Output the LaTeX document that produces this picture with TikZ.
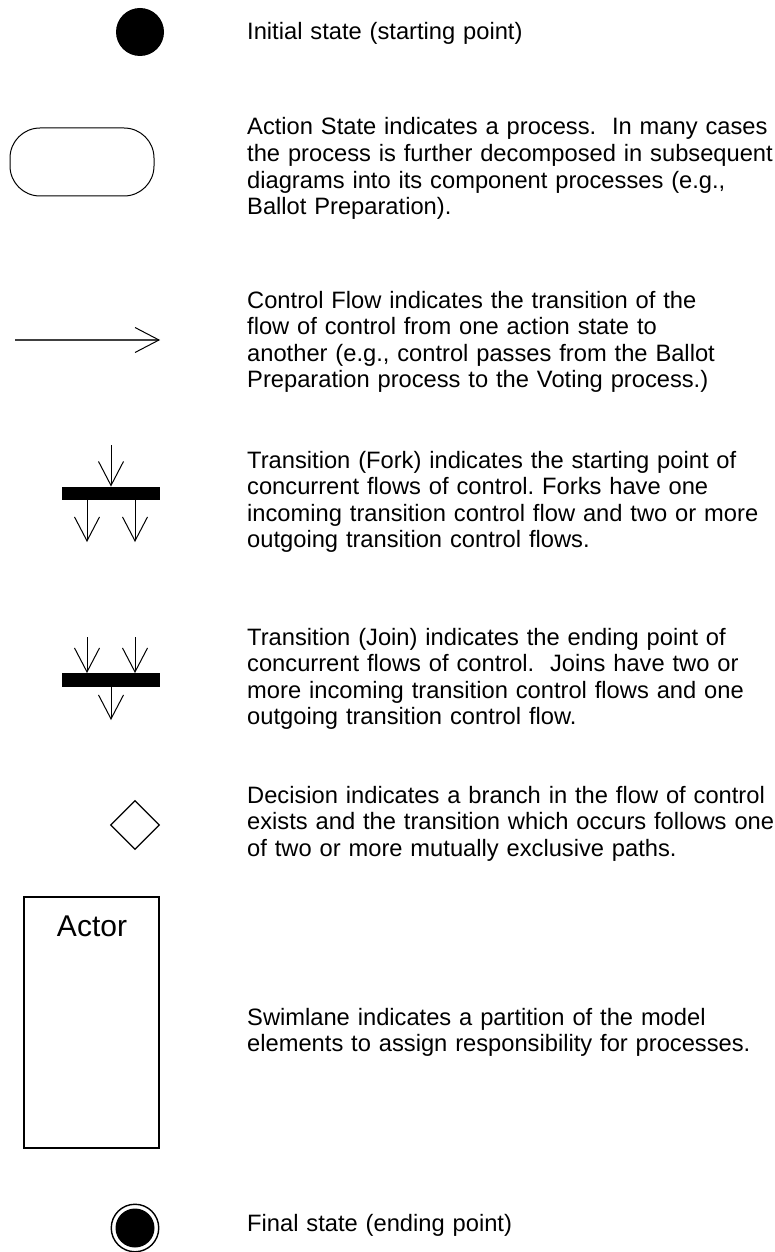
\documentclass[tikz,border=0pt]{standalone}
\usepackage{fontspec}
\setmainfont{Liberation Sans}
\usetikzlibrary{arrows.meta,shapes.geometric}
\frenchspacing
\tikzset{
  desc/.style={anchor=base west, inner sep=0pt, text width=560pt, align=left,
               font=\fontsize{23.7}{26.6}\selectfont},
  flow/.style={line width=1pt, -{Straight Barb[length=24pt,width=25pt,line width=1pt]}},
  barnode/.style={fill=black, draw=none, minimum width=98pt, minimum height=13.5pt, inner sep=0pt},
  startnode/.style={circle, fill=black, minimum size=48pt, inner sep=0pt},
  actionnode/.style={draw, line width=1pt, rounded corners=30pt, minimum width=144pt, minimum height=68pt, inner sep=0pt},
  decisionnode/.style={diamond, draw, line width=1.3pt, minimum width=49pt, minimum height=49pt, inner sep=0pt},
  lanenode/.style={draw, line width=1.2pt, minimum width=135pt, minimum height=251pt, inner sep=0pt},
}
\begin{document}
\begin{tikzpicture}[x=1pt,y=-1pt]
\useasboundingbox (0,0) rectangle (774,1252);

% Initial state
\node[startnode] (init) at (140,32) {};
\node[desc] (tinit) at (247,40) {Initial state (starting point)};

% Action state
\node[actionnode] (action) at (82,162) {};
\node[desc] (taction) at (247,135) {Action State indicates a process.\ \ In many cases\\the process is further decomposed in subsequent\\diagrams into its component processes (e.g.,\\Ballot Preparation).};

% Control flow
\coordinate (cfa) at (15,340);
\coordinate (cfb) at (159,340);
\draw[line width=1.2pt, draw=black!75] (cfa) -- (cfb);
\draw[line width=1pt] (135,327.5) -- (cfb) -- (135,352.5);
\node[desc] (tcontrol) at (247,308) {Control Flow indicates the transition of the\\flow of control from one action state to\\another (e.g., control passes from the Ballot\\Preparation process to the Voting process.)};

% Fork
\node[barnode] (fork) at (111,493.5) {};
\coordinate (forkin) at (111,445);
\coordinate (forkout1) at (87,542);
\coordinate (forkout2) at (135,542);
\draw[flow] (forkin) -- (fork.north);
\draw[flow] (fork.south -| forkout1) -- (forkout1);
\draw[flow] (fork.south -| forkout2) -- (forkout2);
\node[desc] (tfork) at (247,468) {Transition (Fork) indicates the starting point of\\concurrent flows of control. Forks have one\\incoming transition control flow and two or more\\outgoing transition control flows.};

% Join
\node[barnode] (join) at (111,680) {};
\coordinate (joinin1) at (87,637);
\coordinate (joinin2) at (135,637);
\coordinate (joinout) at (111,720);
\draw[flow] (joinin1) -- (joinin1 |- join.north);
\draw[flow] (joinin2) -- (joinin2 |- join.north);
\draw[flow] (join.south) -- (joinout);
\node[desc] (tjoin) at (247,645) {Transition (Join) indicates the ending point of\\concurrent flows of control.\ \ Joins have two or\\more incoming transition control flows and one\\outgoing transition control flow.};

% Decision
\node[decisionnode] (decision) at (135,825) {};
\node[desc] (tdecision) at (247,803) {Decision indicates a branch in the flow of control\\exists and the transition which occurs follows one\\of two or more mutually exclusive paths.};

% Swimlane
\node[lanenode] (lane) at (91.5,1022.5) {};
\node[anchor=base, inner sep=0pt, font=\fontsize{30}{32}\selectfont] (actor) at (92,936) {Actor};
\node[desc] (tlane) at (247,1025) {Swimlane indicates a partition of the model\\elements to assign responsibility for processes.};

% Final state
\node[circle, draw, line width=1.4pt, minimum size=47.5pt, inner sep=0pt] (final) at (135,1228) {};
\node[circle, fill=black, minimum size=39pt, inner sep=0pt] (finalin) at (final.center) {};
\node[desc] (tfinal) at (247,1231) {Final state (ending point)};
\end{tikzpicture}
\end{document}
